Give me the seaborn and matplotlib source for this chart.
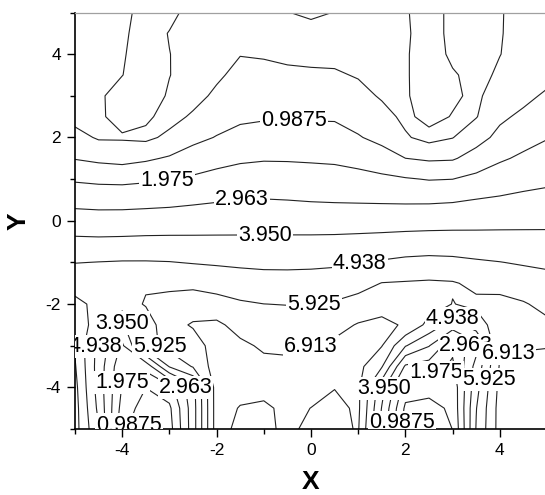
import numpy as np
import matplotlib
matplotlib.use("Agg")
import matplotlib.pyplot as plt
from matplotlib.ticker import MultipleLocator
import seaborn as sns

# grid nodes: x left -> right, y top -> bottom
x_nodes = [-5.0, -4.5, -4.0, -3.5, -3.0, -2.5, -2.0, -1.5, -1.0, -0.5, 0.0,
           0.5, 1.0, 1.5, 2.0, 2.5, 3.0, 3.5, 4.0, 4.5, 5.0]
y_nodes = [5.0, 4.5, 4.0, 3.5, 3.0, 2.5, 2.0, 1.5, 1.0, 0.5, 0.0,
           -0.5, -1.0, -1.5, -2.0, -2.5, -3.0, -3.5, -4.0, -4.5, -5.0]

# field values estimated from the contour picture, one column per x node (top -> bottom)
z_xm50 = [-0.5, -0.5, -0.5, -0.45, -0.4, -0.3, 0.31, 0.94, 1.86, 2.65, 3.40, 4.14, 4.91, 5.64, 6.1, 6.5, 6.8, 7.0, 7.2, 7.3, 7.3]
z_xm45 = [-0.5, -0.5, -0.5, -0.4, -0.15, -0.15, -0.1, 0.77, 1.77, 2.60, 3.36, 4.12, 4.96, 5.58, 5.75, 5.5, 4.6, 4.5, 4.5, 4.7, 5.0]
z_xm40 = [-0.3, -0.2, -0.1, -0.02, 0.4, 0.35, -0.1, 0.66, 1.74, 2.60, 3.37, 4.14, 5.0, 5.75, 5.5, 3.8, 2.8, 2.2, 1.9, 1.6, 1.2]
z_xm35 = [0.4, 0.5, 0.5, 0.5, 0.45, 0.15, -0.2, 0.84, 1.83, 2.65, 3.40, 4.17, 5.0, 5.83, 6.0, 5.4, 5.5, 2.3, 1.0, 0.5, 0.3]
z_xm30 = [0.3, -0.05, 0.02, 0.02, -0.1, -0.3, 0.2, 1.09, 1.94, 2.70, 3.44, 4.17, 4.97, 5.74, 6.2, 6.6, 6.3, 5.0, 1.6, 0.8, 0.6]
z_xm25 = [-0.4, -0.4, -0.4, -0.35, -0.3, 0.12, 0.74, 1.41, 2.11, 2.80, 3.47, 4.16, 4.89, 5.69, 6.44, 7.0, 6.5, 6.0, 3.6, 3.5, 3.5]
z_xm20 = [-0.4, -0.4, -0.35, -0.15, 0.17, 0.59, 1.03, 1.66, 2.28, 2.89, 3.51, 4.15, 4.83, 5.53, 6.29, 7.1, 7.3, 7.4, 7.4, 7.4, 7.4]
z_xm15 = [-0.4, -0.35, -0.03, 0.26, 0.54, 0.83, 1.25, 1.83, 2.40, 2.96, 3.54, 4.14, 4.77, 5.41, 6.04, 6.58, 7.1, 7.3, 7.3, 6.85, 6.6]
z_xm10 = [-0.45, -0.4, -0.08, 0.25, 0.57, 0.89, 1.36, 1.90, 2.44, 2.99, 3.55, 4.13, 4.73, 5.33, 5.93, 6.35, 6.78, 7.15, 7.3, 6.7, 6.6]
z_xm05 = [-0.02, -0.35, -0.18, 0.17, 0.53, 0.89, 1.37, 1.89, 2.43, 2.96, 3.55, 4.14, 4.73, 5.31, 5.9, 6.33, 6.75, 7.1, 7.3, 7.2, 7.2]
z_x00 = [0.15, -0.3, -0.24, 0.14, 0.51, 0.89, 1.36, 1.86, 2.38, 2.91, 3.53, 4.15, 4.75, 5.33, 5.9, 6.41, 6.9, 7.2, 7.3, 6.9, 6.6]
z_xp05 = [-0.02, -0.3, -0.25, 0.11, 0.50, 0.88, 1.34, 1.82, 2.34, 2.88, 3.52, 4.17, 4.79, 5.41, 6.02, 6.60, 7.1, 7.2, 6.95, 6.6, 6.6]
z_xp10 = [-0.4, -0.4, -0.35, -0.07, 0.29, 0.66, 1.05, 1.67, 2.27, 2.86, 3.53, 4.21, 4.90, 5.58, 6.28, 6.98, 7.2, 7.2, 7.1, 7.1, 7.0]
z_xp15 = [-0.4, -0.4, -0.4, -0.3, -0.1, 0.31, 0.74, 1.37, 2.18, 2.84, 3.54, 4.26, 5.03, 5.95, 6.7, 7.05, 6.95, 6.0, 4.3, 3.9, 3.6]
z_xp20 = [-0.1, -0.15, -0.1, -0.1, -0.1, -0.2, 0.1, 0.99, 2.05, 2.82, 3.56, 4.32, 5.16, 6.0, 6.7, 6.85, 5.0, 2.8, 1.5, 0.8, 0.5]
z_xp25 = [0.5, 0.5, 0.5, 0.5, 0.45, 0.3, -0.3, 0.85, 1.93, 2.82, 3.58, 4.36, 5.22, 6.05, 6.4, 5.6, 4.0, 2.5, 1.4, 0.6, 0.4]
z_xp30 = [-0.3, -0.3, -0.2, 0.1, 0.15, -0.05, -0.03, 0.89, 1.97, 2.87, 3.61, 4.36, 5.17, 6.0, 5.9, 4.5, 2.2, 1.8, 1.3, 1.2, 1.0]
z_xp35 = [-0.4, -0.4, -0.35, -0.3, -0.2, -0.05, 0.64, 1.36, 2.23, 2.99, 3.64, 4.33, 5.05, 5.73, 6.1, 5.5, 3.6, 4.3, 4.6, 4.9, 5.0]
z_xp40 = [-0.05, -0.05, -0.02, 0.15, 0.55, 0.82, 1.23, 1.85, 2.47, 3.08, 3.68, 4.30, 4.96, 5.6, 6.2, 6.4, 6.85, 7.0, 7.2, 7.3, 7.3]
z_xp45 = [0.25, 0.3, 0.35, 0.45, 0.75, 1.17, 1.65, 2.13, 2.65, 3.18, 3.71, 4.27, 4.85, 5.43, 6.0, 6.4, 6.85, 7.1, 7.2, 7.2, 7.2]
z_xp50 = [0.3, 0.35, 0.45, 0.7, 1.13, 1.53, 1.93, 2.35, 2.78, 3.24, 3.73, 4.25, 4.78, 5.24, 5.68, 6.1, 6.9, 7.0, 7.1, 7.1, 7.1]

levels = [0.0, 0.9875, 1.975, 2.963, 3.950, 4.938, 5.925, 6.913]
level_text = ["", "0.9875", "1.975", "2.963", "3.950", "4.938", "5.925", "6.913"]

# where the labels sit in the picture
label_spots = [
    ("0.9875", -0.36, 2.35), ("1.975", -3.05, 0.98), ("2.963", -1.46, 0.50),
    ("3.950", -0.98, -0.34), ("4.938", 1.03, -1.02), ("5.925", 0.06, -2.02),
    ("6.913", 0.00, -3.02),
    ("3.950", -3.98, -2.38), ("4.938", -4.66, -3.02), ("5.925", -3.19, -3.02),
    ("1.975", -4.28, -3.70), ("2.963", -2.58, -3.98), ("0.9875", -4.03, -4.83),
    ("4.938", 2.98, -2.26), ("2.963", 3.46, -3.02), ("6.913", 4.16, -3.02),
    ("1.975", 2.70, -3.75), ("5.925", 3.80, -3.82), ("3.950", 1.48, -4.02),
    ("0.9875", 1.83, -4.83),
]

columns = [z_xm50, z_xm45, z_xm40, z_xm35, z_xm30, z_xm25, z_xm20, z_xm15, z_xm10, z_xm05,
           z_x00, z_xp05, z_xp10, z_xp15, z_xp20, z_xp25, z_xp30, z_xp35, z_xp40, z_xp45, z_xp50]
Z = np.array(columns).T[::-1]
y_up = y_nodes[::-1]

sns.set_style("white")
plt.rcParams["font.family"] = ["Liberation Sans", "DejaVu Sans"]
plt.rcParams["axes.unicode_minus"] = False

fig = plt.figure(figsize=(5.45, 4.95), dpi=100)
ax = fig.add_axes([0.1376, 0.1333, 0.8661, 0.8414])

# one contour set per level so each label lands on its own line
sets = {}
for lev, txt in zip(levels, level_text):
    sets[txt] = ax.contour(x_nodes, y_up, Z, levels=[lev], colors="#222222", linewidths=0.8)

for txt, lx, ly in label_spots:
    cs = sets[txt]
    cs.clabel(manual=[(lx, ly)], inline=False, fmt={cs.levels[0]: txt},
              fontsize=15.5, colors="black")

for t in ax.texts:
    t.set_rotation(0)
    t.set_bbox(dict(boxstyle="square,pad=0.05", facecolor="white", edgecolor="none"))
    t.set_clip_on(True)
    t.set_clip_box(ax.bbox)

ax.set_xlim(-5, 5)
ax.set_ylim(-5, 5)
ax.xaxis.set_major_locator(MultipleLocator(2))
ax.xaxis.set_minor_locator(MultipleLocator(1))
ax.yaxis.set_major_locator(MultipleLocator(2))
ax.yaxis.set_minor_locator(MultipleLocator(1))
ax.tick_params(which="both", direction="out", bottom=True, left=True, top=False, right=False,
               color="black", width=1.0, labelcolor="black")
ax.tick_params(which="major", length=6, labelsize=12.5, pad=4)
ax.tick_params(which="minor", length=3.5)

for side in ["left", "bottom"]:
    ax.spines[side].set_color("black")
    ax.spines[side].set_linewidth(1.2)
ax.spines["top"].set_color("#a0a0a0")
ax.spines["top"].set_linewidth(0.9)

ax.set_xlabel("X", fontsize=19, fontweight="bold", color="black", labelpad=9)
ax.set_ylabel("Y", fontsize=19, fontweight="bold", color="black", labelpad=11)

fig.savefig("out.png", dpi=100, facecolor="white")
